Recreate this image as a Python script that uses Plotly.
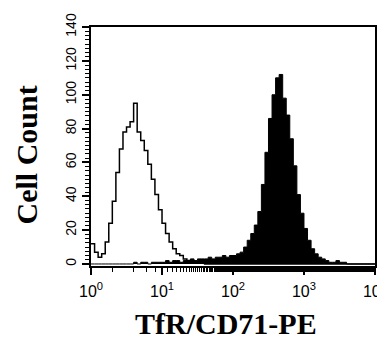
import numpy as np
import plotly.graph_objects as go

# Histogram channels: 80 bins, each 0.05 decade wide, covering 10^0 .. 10^4
bin_width_decades = 0.05
channel_index = list(range(80))

control_counts = [
    12, 7, 4, 6, 13, 24, 37, 54, 68, 78,
    81, 84, 95, 78, 73, 67, 59, 50, 41, 32,
    24, 18, 13, 9, 6, 5, 3, 2, 2, 1,
    1, 1, 0, 0, 0, 0, 0, 0, 0, 0,
    0, 0, 0, 0, 0, 0, 0, 0, 0, 0,
    0, 0, 0, 0, 0, 0, 0, 0, 0, 0,
    0, 0, 0, 0, 0, 0, 0, 0, 0, 0,
    0, 0, 0, 0, 0, 0, 0, 0, 0, 0,
]

tfr_counts = [
    0, 0, 0, 0, 0, 0, 0, 0, 0, 0,
    0, 0, 1, 0, 1, 1, 0, 1, 1, 1,
    1, 2, 1, 2, 2, 1, 2, 2, 3, 2,
    3, 3, 3, 4, 3, 4, 4, 5, 4, 5,
    5, 6, 7, 10, 14, 18, 23, 31, 47, 66,
    86, 100, 110, 112, 98, 88, 74, 58, 41, 30,
    21, 14, 9, 6, 4, 3, 2, 1, 1, 2,
    1, 1, 0, 0, 0, 0, 0, 0, 0, 0,
]

x_tick_values = [1, 10, 100, 1000, 10000]
x_tick_text = ["10<sup>0</sup>", "10<sup>1</sup>", "10<sup>2</sup>", "10<sup>3</sup>", "10<sup>4</sup>"]
y_tick_values = [0, 20, 40, 60, 80, 100, 120, 140]

x_title = "TfR/CD71-PE"
y_title = "Cell Count"

# bin left edges (plus closing edge) in data units
edges = [10 ** (i * bin_width_decades) for i in channel_index] + [10 ** (len(channel_index) * bin_width_decades)]
ctrl_y = control_counts + [control_counts[-1]]
tfr_y = tfr_counts + [tfr_counts[-1]]

fig = go.Figure()
fig.add_trace(go.Scatter(
    x=edges, y=tfr_y, mode="lines", line=dict(shape="hv", color="black", width=1),
    fill="tozeroy", fillcolor="black", hoverinfo="skip", showlegend=False,
))
fig.add_trace(go.Scatter(
    x=edges, y=ctrl_y, mode="lines", line=dict(shape="hv", color="black", width=1.5),
    hoverinfo="skip", showlegend=False,
))

# the page body adds an 8px offset, so the figure is 8px smaller than the window
fig.update_layout(
    width=377, height=329,
    margin=dict(l=83, r=10, t=19, b=71),
    paper_bgcolor="white", plot_bgcolor="white",
    showlegend=False,
)
fig.update_xaxes(
    type="log", range=[-0.0005, 4.0005], automargin=False,
    tickvals=x_tick_values, ticktext=x_tick_text, ticklabeloverflow="allow",
    ticklabelstandoff=3,
    ticks="outside", ticklen=7, tickwidth=1.5, tickcolor="black",
    minor=dict(ticks="outside", ticklen=4, tickwidth=1, tickcolor="black", showgrid=False),
    showline=True, linecolor="black", linewidth=2, mirror=True,
    showgrid=False, zeroline=False,
    tickfont=dict(family="Liberation Sans", size=16, color="black"),
)
fig.update_yaxes(
    range=[-1.2, 140.05], automargin=False, ticklabeloverflow="allow",
    tickvals=y_tick_values, tickangle=-90,
    ticks="outside", ticklen=7, tickwidth=1.5, tickcolor="black",
    minor=dict(dtick=2.5, ticks="outside", ticklen=4, tickwidth=1, tickcolor="black", showgrid=False),
    showline=True, linecolor="black", linewidth=2, mirror=True,
    showgrid=False, zeroline=False,
    tickfont=dict(family="Liberation Sans", size=14, color="black"),
)
fig.add_annotation(
    text=f"<b>{y_title}</b>", xref="paper", yref="paper", x=0, y=0.5,
    xanchor="center", yanchor="middle", xshift=-65, yshift=-9, textangle=-90,
    showarrow=False, font=dict(family="Liberation Serif", size=30, color="black"),
)
fig.add_annotation(
    text=f"<b>{x_title}</b>", xref="paper", yref="paper", x=0.5, y=0,
    xanchor="center", yanchor="middle", xshift=-7, yshift=-57,
    showarrow=False, font=dict(family="Liberation Serif", size=30, color="black"),
)

fig.write_html("out.html")
